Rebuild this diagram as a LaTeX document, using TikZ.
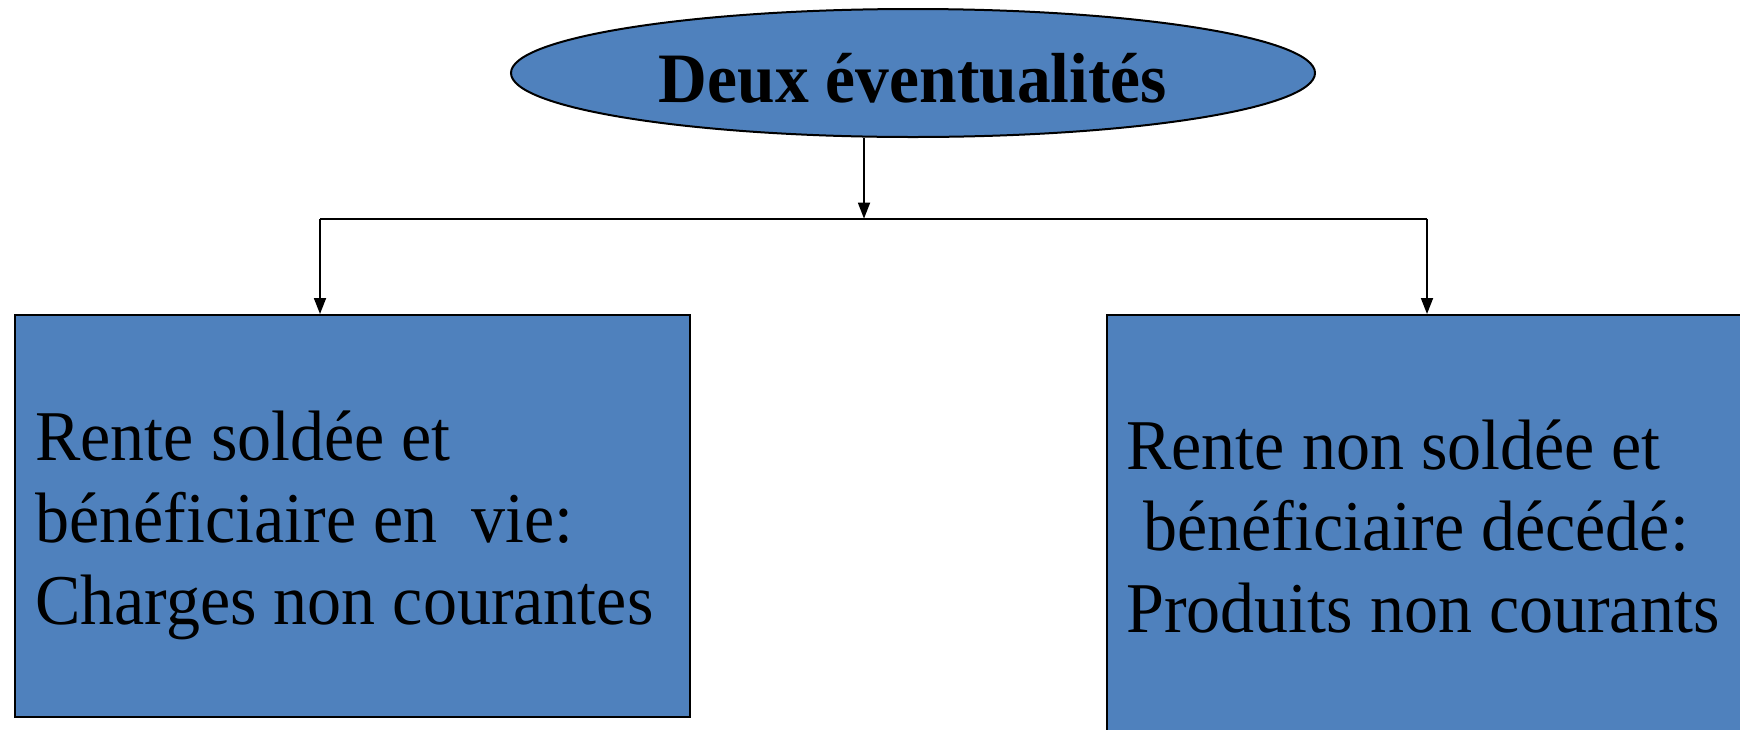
\documentclass[tikz,border=0pt]{standalone}
\usepackage{fontspec}
\setmainfont{Liberation Serif}
\usetikzlibrary{arrows.meta,shapes.geometric}
\definecolor{boxblue}{RGB}{79,129,189}
% slightly tall lettering
\newcommand{\tallbox}[1]{\scalebox{1}[1.05]{#1}}
\begin{document}
\begin{tikzpicture}[x=0.5pt,y=-0.5pt,
  blueshape/.style={draw=black, line width=1pt, fill=boxblue, inner sep=0pt},
  link/.style={draw=black, line width=0.9pt},
  tip/.style={-{Triangle[width=6pt,length=8pt]}},
  bodytext/.style={anchor=base west, inner sep=0pt, font=\fontsize{34}{39}\selectfont}]
% page area
\fill[white] (0,0) rectangle (1740,729);
\clip (0,0) rectangle (1740,729);

% title ellipse
\node[blueshape, ellipse, minimum width=402pt, minimum height=64pt,
      text height=29.5pt, text depth=0pt,
      font=\bfseries\fontsize{33.75}{40}\selectfont] (top) at (913,73) {\tallbox{Deux éventualités}};

% the two outcome boxes
\node[blueshape, rectangle, anchor=north west, minimum width=337.4pt, minimum height=200.9pt] (boxl) at (14.4,314) {};
\node[blueshape, rectangle, anchor=north west, minimum width=400pt, minimum height=250pt] (boxr) at (1106.4,314) {};

\node[bodytext] (textl) at (35,460.5) {\tallbox{\begin{tabular}[t]{@{}l@{}}Rente soldée et\\ bénéficiaire en~ vie:\\ Charges non courantes\end{tabular}}};
\node[bodytext] (textr) at (1126,469) {\tallbox{\begin{tabular}[t]{@{}l@{}}Rente non soldée et\\ ~bénéficiaire décédé:\\ Produits non courants\end{tabular}}};

% connectors
\coordinate (split) at (864,218.6);
\coordinate (jl) at (320,218.6);
\coordinate (jr) at (1427,218.6);
\draw[link, tip] (top.south -| split) -- (split);
\draw[link] (jl) -- (jr);
\draw[link, tip] (jl) -- (jl |- boxl.north);
\draw[link, tip] (jr) -- (jr |- boxr.north);
\end{tikzpicture}
\end{document}
